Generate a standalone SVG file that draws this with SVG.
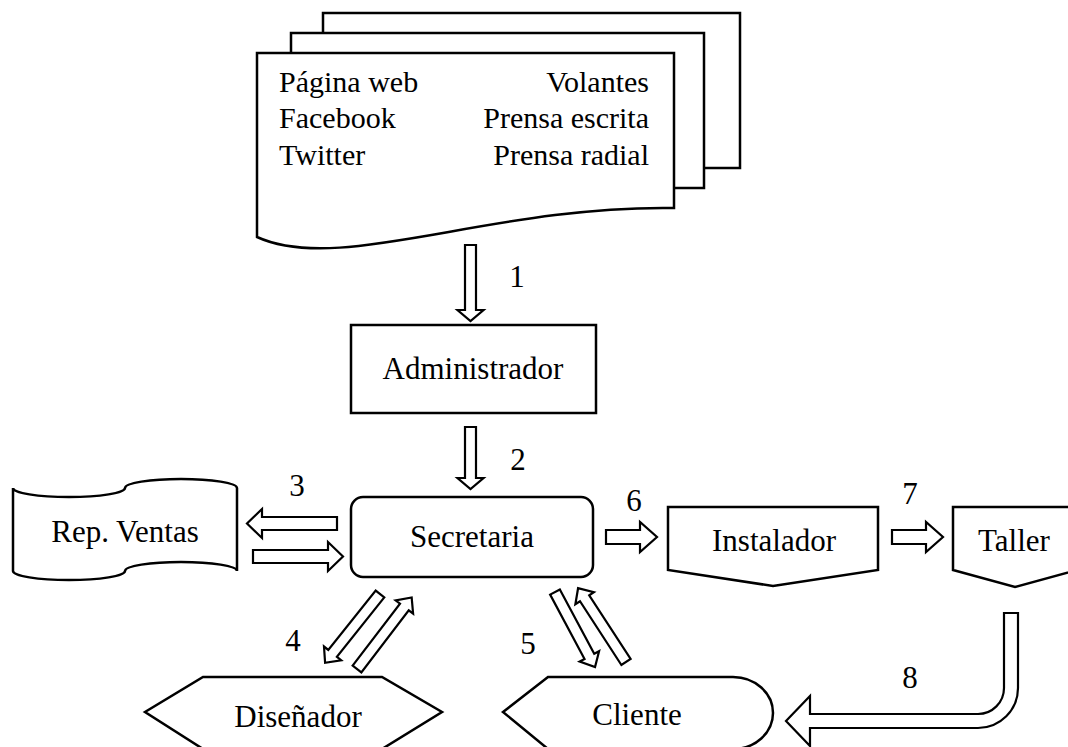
<svg xmlns="http://www.w3.org/2000/svg" width="1068" height="747" viewBox="0 0 1068 747">
  <style>
    .shape { fill: #ffffff; stroke: #000000; stroke-width: 2.5; stroke-linejoin: miter; }
    .arrow { fill: #ffffff; stroke: #000000; stroke-width: 2.2; stroke-linejoin: miter; }
    text { font-family: "Liberation Serif", "Times New Roman", serif; font-size: 31px; fill: #000000; }
    .doc { font-size: 30px; }
    .mid { text-anchor: middle; }
    .end { text-anchor: end; }
  </style>
  <rect x="0" y="0" width="1068" height="747" fill="#ffffff"/>

  <!-- stacked documents: media channels -->
  <g id="medios">
    <rect class="shape" x="323" y="13" width="417" height="155"/>
    <rect class="shape" x="291" y="33" width="413" height="155"/>
    <path class="shape" d="M257,53 H674 V208 C490,205 340,275 257,237 Z"/>
    <text class="doc" x="279" y="92">Página web</text>
    <text class="doc" x="279" y="128">Facebook</text>
    <text class="doc" x="279" y="165">Twitter</text>
    <text class="doc end" x="649" y="92">Volantes</text>
    <text class="doc end" x="649" y="128">Prensa escrita</text>
    <text class="doc end" x="649" y="165">Prensa radial</text>
  </g>

  <g id="administrador">
    <rect class="shape" x="351" y="325" width="245" height="88"/>
    <text class="mid" x="473" y="379">Administrador</text>
  </g>

  <g id="secretaria">
    <rect class="shape" x="351" y="497" width="242" height="80" rx="12" ry="12"/>
    <text class="mid" x="472" y="547">Secretaria</text>
  </g>

  <g id="rep-ventas">
    <path class="shape" d="M13,488 A56,9 0 0 0 125,488 A56,9 0 0 1 237,488 V571 A56,9 0 0 0 125,571 A56,9 0 0 1 13,571 Z"/>
    <text class="mid" x="125" y="542">Rep. Ventas</text>
  </g>

  <g id="instalador">
    <path class="shape" d="M668,507 H878 V570 L773,586 L668,570 Z"/>
    <text class="mid" x="774" y="551">Instalador</text>
  </g>

  <g id="taller">
    <path class="shape" d="M953,507 H1077 V570 L1015,587 L953,570 Z"/>
    <text class="mid" x="1014" y="551">Taller</text>
  </g>

  <g id="disenador">
    <path class="shape" d="M203,677 H382 L442,712 L382,749 H203 L145,712 Z"/>
    <text class="mid" x="298" y="727">Diseñador</text>
  </g>

  <g id="cliente">
    <path class="shape" d="M548,677 H733 A40,36 0 0 1 733,749 H548 L503,712 Z"/>
    <text class="mid" x="637" y="725">Cliente</text>
  </g>

  <!-- connectors: hollow block arrows and their step numbers -->
  <g id="conectores">
    <path class="arrow" d="M465,245 H476 V310 H483.5 L470.5,321 L457.5,310 H465 Z"/>
    <path class="arrow" d="M465,427 H476 V478 H483.5 L470.5,489 L457.5,478 H465 Z"/>
    <path class="arrow" d="M337,517 V530 H262 V538 L247,523.5 L262,509 V517 Z"/>
    <path class="arrow" d="M253,550 V563 H328 V571 L343,556.5 L328,542 V550 Z"/>
    <path class="arrow" d="M606,530 V544 H640 V552 L657,537 L640,522 V530 Z"/>
    <path class="arrow" d="M892,530 V544 H926 V552 L943,537 L926,522 V530 Z"/>
    <!-- diagonal pairs, drawn along +x then rotated into place -->
    <path class="arrow" transform="translate(380,594) rotate(128.6)" d="M0,-5.5 H76 V-11 L88,0 L76,11 V5.5 H0 Z"/>
    <path class="arrow" transform="translate(357,669) rotate(-52.6)" d="M0,-5.5 H78 V-11 L90,0 L78,11 V5.5 H0 Z"/>
    <path class="arrow" transform="translate(555,592) rotate(61.9)" d="M0,-5.5 H73 V-11 L85,0 L73,11 V5.5 H0 Z"/>
    <path class="arrow" transform="translate(626,662) rotate(-123)" d="M0,-5.5 H76 V-11 L88,0 L76,11 V5.5 H0 Z"/>
    <!-- bent return arrow from Taller to Cliente -->
    <path class="arrow" d="M1004,613 H1018 V688 A40,40 0 0 1 978,728 H810 V746 L786,721 L810,696 V714 H978 A26,26 0 0 0 1004,688 Z"/>

    <text class="mid" x="517" y="287">1</text>
    <text class="mid" x="518" y="470">2</text>
    <text class="mid" x="297" y="496">3</text>
    <text class="mid" x="293" y="651">4</text>
    <text class="mid" x="528" y="654">5</text>
    <text class="mid" x="634" y="511">6</text>
    <text class="mid" x="910" y="504">7</text>
    <text class="mid" x="910" y="688">8</text>
  </g>
</svg>
